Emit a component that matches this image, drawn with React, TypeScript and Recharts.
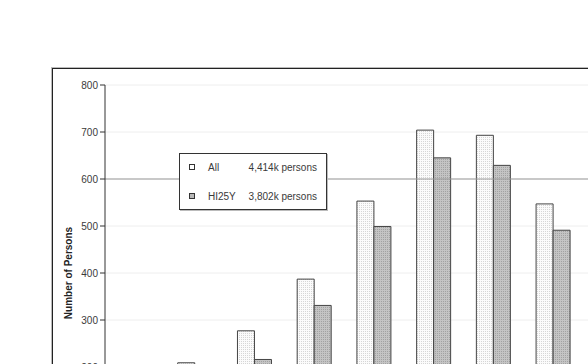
import { BarChart, Bar, XAxis, YAxis, CartesianGrid, Legend, ReferenceLine } from 'recharts';

const ageGroups = ['15-19', '20-24', '25-29', '30-34', '35-39', '40-44', '45-49', '50-54', '55-59', '60-64', '65+'];
const allPersons = [130, 209, 277, 387, 553, 704, 693, 547, 400, 290, 224];
const hi25yPersons = [100, 175, 216, 331, 499, 645, 629, 491, 330, 230, 156];
const yTicks = [0, 100, 200, 300, 400, 500, 600, 700, 800];
const legendItems = [
  { key: 'all', name: 'All', total: '4,414k persons', fill: '#ffffff' },
  { key: 'hi25y', name: 'HI25Y', total: '3,802k persons', fill: '#b8b8b8' },
];

const data = ageGroups.map((age, i) => ({ age, all: allPersons[i], hi25y: hi25yPersons[i] }));

const FONT = '"Liberation Sans", Arial, sans-serif';
const TEXT = '#3a3a3a';

function LegendBox() {
  return (
    <div
      style={{
        width: 146,
        height: 55,
        border: '1px solid #333',
        boxShadow: '1px 1px 0 #bbb',
        background: '#fff',
        fontFamily: FONT,
        fontSize: 10,
        color: TEXT,
        position: 'relative',
      }}
    >
      {legendItems.map((item, i) => (
        <div key={item.key} style={{ position: 'absolute', left: 0, top: 7 + i * 28.5, height: 14, width: '100%' }}>
          <span
            style={{
              position: 'absolute',
              left: 9,
              top: 3,
              width: 4,
              height: 4,
              border: '1.5px solid #333',
              background: item.fill,
            }}
          />
          <span style={{ position: 'absolute', left: 28, top: 1, color: TEXT }}>{item.name}</span>
          <span style={{ position: 'absolute', right: 9, top: 1, color: TEXT }}>{item.total}</span>
        </div>
      ))}
    </div>
  );
}

export default function App() {
  return (
    <div style={{ position: 'fixed', left: 0, top: 0, width: 588, height: 364, overflow: 'hidden', background: '#fff' }}>
      <div
        style={{
          position: 'absolute',
          left: 52,
          top: 68,
          width: 729,
          height: 440,
          border: '1px solid #222',
          boxShadow: '0 0 0 1px #bbb',
          background: '#fff',
        }}
      >
        <BarChart
          width={729}
          height={440}
          data={data}
          margin={{ top: 16, right: 20, left: 0, bottom: 18 }}
          barGap={0}
          barSize={17}
          style={{ fontFamily: FONT }}
        >
          <defs>
            <pattern id="dotsAll" width="2" height="2" patternUnits="userSpaceOnUse">
              <rect width="2" height="2" fill="#fbfbfb" />
              <rect width="1" height="1" fill="#d6d6d6" />
            </pattern>
            <pattern id="dotsHi" width="2" height="2" patternUnits="userSpaceOnUse">
              <rect width="2" height="2" fill="#c4c4c4" />
              <rect width="1" height="1" fill="#a2a2a2" />
            </pattern>
          </defs>
          <CartesianGrid vertical={false} stroke="#eeeeee" />
          <XAxis dataKey="age" tick={{ fontSize: 10, fill: '#333' }} stroke="#333" />
          <YAxis
            width={52}
            domain={[0, 800]}
            ticks={yTicks}
            tickSize={5}
            tick={{ fontSize: 10, fill: TEXT }}
            stroke="#333"
            label={{
              value: 'Number of Persons',
              angle: -90,
              position: 'insideLeft',
              offset: 15,
              style: { textAnchor: 'middle', fontSize: 10, fontWeight: 'bold', fill: '#222' },
            }}
          />
          <ReferenceLine y={600} stroke="#999" />
          <Legend
            layout="horizontal"
            verticalAlign="middle"
            wrapperStyle={{ left: 126, top: 84, width: 148, height: 57 }}
            content={() => <LegendBox />}
          />
          <Bar dataKey="all" name="All" fill="url(#dotsAll)" stroke="#444" isAnimationActive={false} />
          <Bar dataKey="hi25y" name="HI25Y" fill="url(#dotsHi)" stroke="#444" isAnimationActive={false} />
        </BarChart>
      </div>
    </div>
  );
}
